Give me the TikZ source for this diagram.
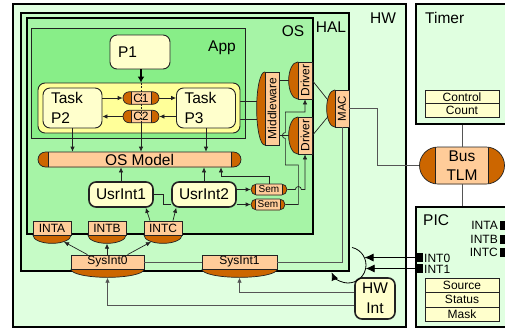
\documentclass[tikz,border=0pt]{standalone}
\usepackage{fontspec}
\setmainfont{Liberation Sans}
\usepackage{graphicx}
\usetikzlibrary{arrows.meta,shapes.misc,shapes.geometric}
\pgfdeclarelayer{boxes}
\pgfdeclarelayer{ends}
\pgfsetlayers{boxes,ends,main}

\definecolor{hwG}{HTML}{E0FFE0}
\definecolor{halG}{HTML}{C6FBC6}
\definecolor{osG}{HTML}{A6F4A6}
\definecolor{appG}{HTML}{88EE88}
\definecolor{yel}{HTML}{FFFF99}
\definecolor{pale}{HTML}{FFFFCC}
\definecolor{orD}{HTML}{CC6600}
\definecolor{orL}{HTML}{FFCC99}
\definecolor{edge}{HTML}{222222}
\definecolor{grayC}{HTML}{555555}

\tikzset{
  big/.style={font=\fontsize{15.5}{20}\selectfont},
  small/.style={font=\fontsize{12}{14}\selectfont},
  tiny/.style={font=\fontsize{10}{11}\selectfont},
  lbl/.style={big, inner sep=0pt, text depth=0pt},
  pinlbl/.style={small, inner sep=0pt, text depth=0pt},
  frame/.style={draw=black, line width=1.6pt, inner sep=0pt},
  proc/.style={draw=edge, fill=pale, rounded corners=7pt, line width=0.9pt, inner sep=0pt, big},
  task/.style={proc, align=left, inner xsep=8pt, text width=43pt, minimum height=40pt},
  usr/.style={proc, line width=1.6pt, minimum width=64pt, minimum height=25pt},
  reg/.style={draw=edge, fill=pale, line width=0.8pt, inner sep=0pt, small, minimum width=74pt, minimum height=13.5pt},
  capin/.store in=\capin, capin=8pt,
  capsule/.style={rounded rectangle, draw=edge, fill=orD, line width=0.7pt, inner sep=0pt,
    path picture={\draw[draw=edge, fill=orL, line width=0.7pt]
      ([xshift=\capin, yshift=-2pt]path picture bounding box.south west) rectangle
      ([xshift=-\capin, yshift=2pt]path picture bounding box.north east);}},
  slab/.style={draw=edge, fill=orL, line width=0.7pt, inner sep=0pt},
  bulge/.style={ellipse, draw=edge, fill=orD, line width=0.7pt, inner sep=0pt},
  pin/.style={fill=black, inner sep=0pt, minimum width=6pt, minimum height=9pt},
  wire/.style={draw=edge, line width=0.7pt},
  hwwire/.style={draw=grayC, line width=0.8pt},
  arr/.style={wire, -{Latex[length=5pt,width=4.5pt]}},
  pinarr/.style={draw=black, line width=0.8pt, -{Latex[length=9pt,width=8pt]}},
}

\begin{document}
\begin{tikzpicture}[x=1pt,y=-1pt]
\useasboundingbox (0,0) rectangle (505,330);

% nested frames
\begin{pgfonlayer}{boxes}
\node[frame, fill=hwG, minimum width=393pt, minimum height=323pt] (hw) at (209.5,165.5) {};
\node[frame, fill=hwG, minimum width=96pt, minimum height=120pt] (timer) at (464,64) {};
\node[frame, fill=hwG, minimum width=96pt, minimum height=120pt] (pic) at (464,267) {};
\node[frame, fill=halG, minimum width=328pt, minimum height=258pt] (hal) at (185,142) {};
\node[frame, fill=osG, minimum width=286pt, minimum height=216pt] (os) at (170,126) {};
\node[draw=edge, fill=appG, line width=0.8pt, inner sep=0pt, minimum width=214pt, minimum height=110pt] (app) at (138,83) {};
\end{pgfonlayer}
\node[lbl] (hwL) at (383,18) {HW};
\node[lbl, anchor=west] (timerL) at (425,18) {Timer};
\node[lbl, anchor=west] (picL) at (423,220) {PIC};
\node[lbl] (halL) at (331,27) {HAL};
\node[lbl] (osL) at (293,31) {OS};
\node[lbl] (appL) at (222,46) {App};

% application
\node[proc, align=left, inner xsep=8pt, text width=44pt, minimum height=34pt] (p1) at (140,52) {P1};
\node[draw=edge, fill=yel, rounded corners=7pt, line width=0.9pt, inner sep=0pt, minimum width=202pt, minimum height=50pt] (grp) at (139,108) {};
\node[task] (p2) at (72.5,108) {Task\\P2};
\node[task] (p3) at (206,108) {Task\\P3};
\node[capsule, capin=8pt, minimum width=36pt, minimum height=12.5pt, small] (c1) at (141,98) {C1};
\node[capsule, capin=8pt, minimum width=36pt, minimum height=12.5pt, small] (c2) at (141,116.5) {C2};

% OS layer
\node[capsule, capin=10pt, minimum width=203pt, minimum height=15pt, big] (osm) at (139.5,159.5) {OS Model};
\node[usr] (usr1) at (121,194.5) {UsrInt1};
\node[usr] (usr2) at (204,194.5) {UsrInt2};
\node[capsule, capin=4.5pt, minimum width=36pt, minimum height=11pt, tiny] (sem1) at (269,189.5) {Sem};
\node[capsule, capin=4.5pt, minimum width=34pt, minimum height=11pt, tiny] (sem2) at (268,204.5) {Sem};
\node[slab, minimum width=14pt, minimum height=73pt, small] (mw) at (272,108.5) {\rotatebox{90}{Middleware}};
\node[slab, minimum width=14pt, minimum height=37pt, small] (drv1) at (305,80.5) {\rotatebox{90}{Driver}};
\node[slab, minimum width=14pt, minimum height=37pt, small] (drv2) at (305,135.5) {\rotatebox{90}{Driver}};
\node[slab, minimum width=38pt, minimum height=14pt, small] (inta) at (52,228) {INTA};
\node[slab, minimum width=38pt, minimum height=14pt, small] (intb) at (107,228) {INTB};
\node[slab, minimum width=38pt, minimum height=14pt, small] (intc) at (163,228) {INTC};

% HAL layer
\node[slab, minimum width=14pt, minimum height=37pt, font=\fontsize{11.5}{12}\selectfont] (mac) at (342,108.5) {\rotatebox{90}{MAC}};
\node[slab, minimum width=73pt, minimum height=14pt, small] (sys0) at (107.5,262) {SysInt0};
\node[slab, minimum width=75pt, minimum height=14pt, small] (sys1) at (239.5,262) {SysInt1};

\begin{pgfonlayer}{ends}
\node[bulge, minimum width=16pt, minimum height=73pt] (mw-b) at (mw.west) {};
\node[bulge, minimum width=18pt, minimum height=37pt] (drv1-b) at (drv1.west) {};
\node[bulge, minimum width=18pt, minimum height=37pt] (drv2-b) at (drv2.west) {};
\node[bulge, minimum width=16pt, minimum height=37pt] (mac-b) at (mac.west) {};
\node[bulge, minimum width=38pt, minimum height=16pt] (inta-b) at (inta.south) {};
\node[bulge, minimum width=38pt, minimum height=16pt] (intb-b) at (intb.south) {};
\node[bulge, minimum width=38pt, minimum height=16pt] (intc-b) at (intc.south) {};
\node[bulge, minimum width=73pt, minimum height=16pt] (sys0-b) at (sys0.south) {};
\node[bulge, minimum width=75pt, minimum height=16pt] (sys1-b) at (sys1.south) {};
\end{pgfonlayer}

% hardware
\node[capsule, capin=16pt, minimum width=85pt, minimum height=37pt, align=center, font=\fontsize{15.5}{19}\selectfont] (bus) at (462,165.5) {Bus\\TLM};
\node[reg] (ctrl) at (462,96.75) {Control};
\node[reg] (cnt) at (462,110.25) {Count};
\node[reg, minimum height=14.5pt] (src) at (462,285.25) {Source};
\node[reg, minimum height=14.5pt] (sts) at (462,299.75) {Status};
\node[reg, minimum height=14.5pt] (msk) at (462,314.25) {Mask};
\node[usr, minimum width=40pt, minimum height=41pt, align=center] (hwint) at (375,298.5) {HW\\Int};
\node[pin] (pinA) at (503,225) {};
\node[pin] (pinB) at (503,239) {};
\node[pin] (pinC) at (503,252.5) {};
\node[pin] (pin0) at (420,257.5) {};
\node[pin] (pin1) at (420,268.5) {};
\node[pinlbl, anchor=east] (pinAL) at (498,225) {INTA};
\node[pinlbl, anchor=east] (pinBL) at (498,239) {INTB};
\node[pinlbl, anchor=east] (pinCL) at (498,252.5) {INTC};
\node[pinlbl, anchor=west] (pin0L) at (424,258) {INT0};
\node[pinlbl, anchor=west] (pin1L) at (424,269) {INT1};

% wires hidden under the rounded ends
\coordinate (t1) at ([yshift=7pt]p3.east);
\coordinate (t2) at ([yshift=-11pt]p3.east);
\begin{pgfonlayer}{boxes}
\draw[wire] (t1) -- (t1 -| mw.west);
\draw[wire] (t2) -- (t2 -| mw.west);
\draw[wire] (mw.east |- drv1) -- (drv1.west);
\draw[wire] (mw.east |- drv2) -- (drv2.west);
\draw[wire] (drv1.east) -- (mac.west);
\draw[wire] (drv2.east) -- (mac.west);
\end{pgfonlayer}

% tasks and channels
\draw[line width=1.4pt, -{Latex[length=6pt,width=7pt]}] (p1.south -| c1) -- (c1 |- grp.north);
\draw[wire, dash pattern=on 2pt off 1.5pt] (c1 |- grp.north) -- (c2.south);
\draw[arr] (c2.south) -- (c2 |- osm.north);
\draw[arr] (p2.east |- c1) -- (c1.west);
\draw[arr] (c1.east) -- (p3.west |- c1);
\draw[arr] (p3.west |- c2) -- (c2.east);
\draw[arr] (c2.west) -- (p2.east |- c2);
\draw[arr] (p2.south) -- (p2 |- osm.north);
\draw[arr] (p3.south) -- (p3 |- osm.north);

% interrupts up to the OS model
\draw[arr] (usr1.north) -- (usr1 |- osm.south);
\draw[arr] (usr2.north) -- (usr2 |- osm.south);
\draw[arr] (sem1.north) -- ++(0,-7) -| ([xshift=81.5pt]osm.south);
\draw[wire] (usr1.east) -- ++(10,0) |- ([yshift=-10pt]usr2.west);
\draw[arr] (usr2.east |- sem1) -- (sem1.west);
\draw[arr] (usr2.east |- sem2) -- (sem2.west);
\draw[arr] (sem2.east) -- ++(13,0) -- ++(0,-39.5) -- ++(-13,0) -- ++(0,-26.5)
  arc[start angle=90, end angle=270, radius=3] -- ++(0,-20.5) -| (drv1.south);
\draw[arr] (sem1.east) -- ++(8,0) arc[start angle=180, end angle=360, radius=3] -| (drv2.south);
\draw[arr] ([xshift=-13pt]intc.north) -- ([xshift=-8pt]usr1.south east);
\draw[arr] ([xshift=10pt]intc.north) -- ([xshift=5pt]usr2.south west);
\draw[arr] ([xshift=-20pt]sys0.north) -- (inta-b);
\draw[arr] (intb-b.south |- sys0.north) -- (intb-b.south);
\draw[arr] ([xshift=20pt]sys0.north) -- (intc-b);

% hardware links
\draw[hwwire] (sys0.east) -- (sys1.west);
\draw[hwwire] (mac.south) |- (sys1.east);
\draw[hwwire] (mac.east) -- ++(28,0) |- (bus.west);
\draw[hwwire] (bus.north) -- (bus.north |- timer.south);
\draw[hwwire] (bus.south) -- (bus.south |- pic.north);
\draw[arr, draw=grayC] ([yshift=6.5pt]hwint.west) -| (sys1-b.south);
\draw[arr, draw=grayC] ([yshift=-6.5pt]hwint.west) -| (sys0-b.south);

% interrupt lines into the HAL
\coordinate (hub) at (348,265);
\coordinate (in0) at (364.5,257.5);
\coordinate (in1) at (365.7,268.5);
\draw[pinarr] (pin0.west) -- (in0);
\draw[pinarr] (pin1.west) -- (in1);
\draw[line width=0.8pt, -{Latex[length=8pt,width=7pt]}] (hub) ++(-77:18) arc[start angle=-77, end angle=156, radius=18];
\end{tikzpicture}
\end{document}
